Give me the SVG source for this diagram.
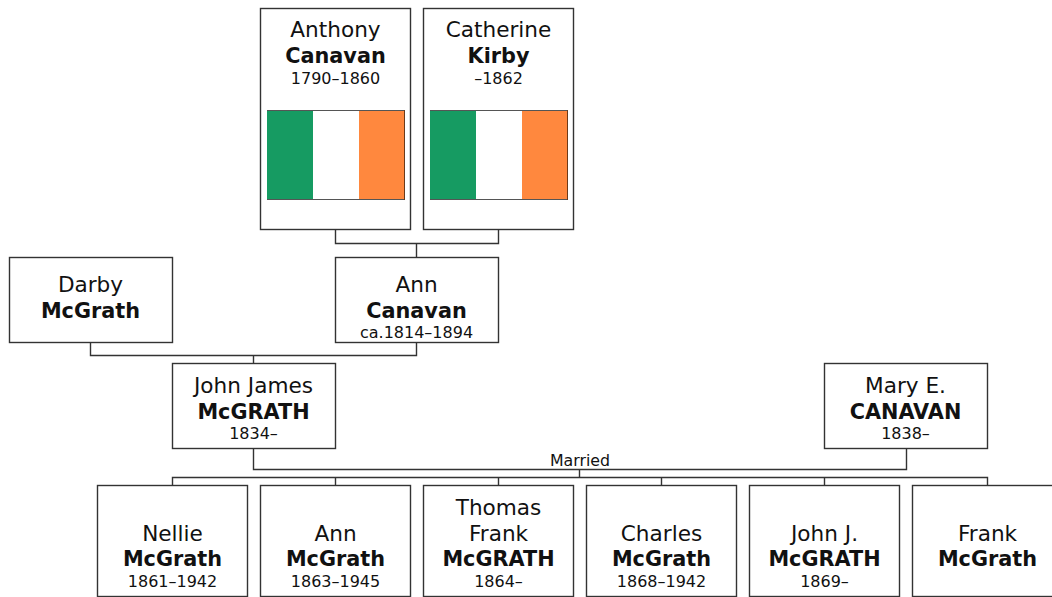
<svg xmlns="http://www.w3.org/2000/svg" width="1052" height="597" viewBox="0 0 1052 597">
<style>
text{font-family:"DejaVu Sans",Verdana,sans-serif;fill:#111;text-anchor:middle}
.b{fill:#fff;stroke:#333;stroke-width:1.4}
.n{font-size:21.600px}
.s{font-size:20.800px;font-weight:bold}
.d{font-size:16px}
.c{fill:none;stroke:#333;stroke-width:1.400}
</style>
<defs>
<g id="flag">
<rect x="0" y="0" width="46" height="90" fill="#169b62"/>
<rect x="46" y="0" width="46" height="90" fill="#fff"/>
<rect x="92" y="0" width="46" height="90" fill="#ff883e"/>
<path d="M0 .5H138M0 89.500H138" stroke="#555" stroke-width="1" fill="none"/>
<path d="M137.500 0V90" stroke="#6b3a1a" stroke-width="1" fill="none"/>
</g>
</defs>
<g id="connectors">
<path class="c" d="M335.500 230V243.500H498.500V230M416.500 243.500V257"/>
<path class="c" d="M90.500 343V355.500H416.500V343M253.500 355.500V363"/>
<path class="c" d="M253.500 448V469.500H906.500V448M579.500 469.500V477.500"/>
<path class="c" d="M172.500 485V477.500H987.500V485M335.500 477.500V485M498.500 477.500V485M661.500 477.500V485M824.500 477.500V485"/>
<text x="580" y="466" style="font-size:15.800px">Married</text>
</g>
<g id="anthony"><rect class="b" x="260.500" y="8.500" width="150" height="221"/><text class="n" x="335.500" y="37">Anthony</text><text class="s" x="335.500" y="63">Canavan</text><text class="d" x="335.500" y="84">1790–1860</text><use href="#flag" x="267" y="110"/></g>
<g id="catherine"><rect class="b" x="423.500" y="8.500" width="150" height="221"/><text class="n" x="498.500" y="37">Catherine</text><text class="s" x="498.500" y="63">Kirby</text><text class="d" x="498.500" y="84">–1862</text><use href="#flag" x="430" y="110"/></g>
<g id="darby"><rect class="b" x="9.500" y="257.500" width="163" height="85"/><text class="n" x="90.500" y="292">Darby</text><text class="s" x="90.500" y="318">McGrath</text></g>
<g id="ann-canavan"><rect class="b" x="335.500" y="257.500" width="163" height="85"/><text class="n" x="416.500" y="292">Ann</text><text class="s" x="416.500" y="318">Canavan</text><text class="d" x="416.500" y="338">ca.1814–1894</text></g>
<g id="john-james"><rect class="b" x="172.500" y="363.500" width="163" height="85"/><text class="n" x="253.500" y="393">John James</text><text class="s" x="253.500" y="419">McGRATH</text><text class="d" x="253.500" y="439">1834–</text></g>
<g id="mary"><rect class="b" x="824.500" y="363.500" width="163" height="85"/><text class="n" x="905.500" y="393">Mary E.</text><text class="s" x="905.500" y="419">CANAVAN</text><text class="d" x="905.500" y="439">1838–</text></g>
<g id="nellie"><rect class="b" x="97.500" y="485.500" width="150" height="111"/><text class="n" x="172.500" y="541">Nellie</text><text class="s" x="172.500" y="566">McGrath</text><text class="d" x="172.500" y="587">1861–1942</text></g>
<g id="ann-mcgrath"><rect class="b" x="260.500" y="485.500" width="150" height="111"/><text class="n" x="335.500" y="541">Ann</text><text class="s" x="335.500" y="566">McGrath</text><text class="d" x="335.500" y="587">1863–1945</text></g>
<g id="thomas"><rect class="b" x="423.500" y="485.500" width="150" height="111"/><text class="n" x="498.500" y="515">Thomas</text><text class="n" x="498.500" y="541">Frank</text><text class="s" x="498.500" y="566">McGRATH</text><text class="d" x="498.500" y="587">1864–</text></g>
<g id="charles"><rect class="b" x="586.500" y="485.500" width="150" height="111"/><text class="n" x="661.500" y="541">Charles</text><text class="s" x="661.500" y="566">McGrath</text><text class="d" x="661.500" y="587">1868–1942</text></g>
<g id="john-j"><rect class="b" x="749.500" y="485.500" width="150" height="111"/><text class="n" x="824.500" y="541">John J.</text><text class="s" x="824.500" y="566">McGRATH</text><text class="d" x="824.500" y="587">1869–</text></g>
<g id="frank"><rect class="b" x="912.500" y="485.500" width="150" height="111"/><text class="n" x="987.500" y="541">Frank</text><text class="s" x="987.500" y="566">McGrath</text></g>
</svg>
